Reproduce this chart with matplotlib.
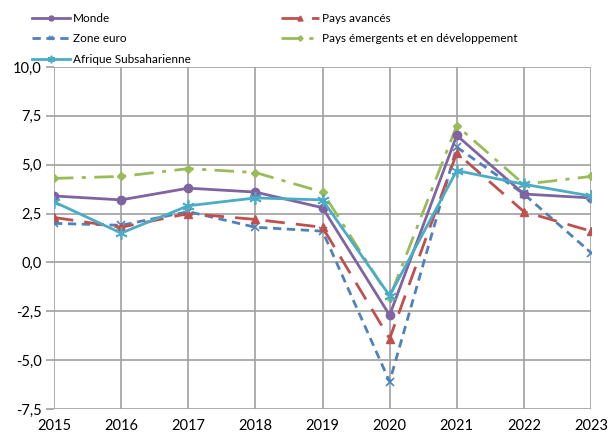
import matplotlib
matplotlib.use('Agg')
import matplotlib.pyplot as plt
import numpy as np

years = ['2015', '2016', '2017', '2018', '2019', '2020', '2021', '2022', '2023']

monde = [3.4, 3.2, 3.8, 3.6, 2.8, -2.7, 6.5, 3.5, 3.3]
pays_avances = [2.3, 1.8, 2.5, 2.2, 1.8, -3.9, 5.6, 2.6, 1.6]
zone_euro = [2.0, 1.9, 2.6, 1.8, 1.6, -6.1, 5.9, 3.5, 0.5]
pays_emergents = [4.3, 4.4, 4.8, 4.6, 3.6, -1.8, 7.0, 4.0, 4.4]
afrique_ss = [3.1, 1.5, 2.9, 3.3, 3.2, -1.7, 4.7, 4.0, 3.4]

yticks = [-7.5, -5.0, -2.5, 0.0, 2.5, 5.0, 7.5, 10.0]

plt.rcParams['font.family'] = ['Lato', 'DejaVu Sans']

fig = plt.figure(figsize=(6.09, 4.37), dpi=100)
ax = fig.add_axes([54 / 609, 1 - 409 / 437, (591 - 54) / 609, (409 - 67) / 437])

x = np.arange(len(years))

l_monde, = ax.plot(x, monde, color='#8064A2', lw=2, marker='o', ms=6, label='Monde', zorder=5)
l_av, = ax.plot(x, pays_avances, color='#C0504D', lw=2, dashes=[7, 4], marker='^', ms=6,
                label='Pays avancés', zorder=4)
l_ze, = ax.plot(x, zone_euro, color='#4F81BD', lw=2, dashes=[3, 2], marker='x', ms=6, mew=1.2,
                label='Zone euro', zorder=3)
l_em, = ax.plot(x, pays_emergents, color='#9BBB59', lw=2, dashes=[7, 3, 1.5, 3], marker='D', ms=4.5,
                label='Pays émergents et en développement', zorder=2)
l_af, = ax.plot(x, afrique_ss, color='#4BACC6', lw=2, marker=(6, 2, 0), ms=9, mew=1.2,
                label='Afrique Subsaharienne', zorder=6)

ax.set_xlim(0, len(years) - 1)
ax.set_ylim(-7.5, 10.0)
ax.set_xticks(x)
ax.set_xticklabels(years)
ax.set_yticks(yticks)
ax.set_yticklabels([('%.1f' % v).replace('.', ',') for v in yticks])

ax.grid(True, color='#A0A0A0', lw=1.2)
ax.set_axisbelow(True)
for s in ax.spines.values():
    s.set_visible(False)
ax.tick_params(axis='y', length=6, width=1.2, color='#A0A0A0', labelsize=10.5, pad=3)
ax.tick_params(axis='x', length=0, labelsize=10.5, pad=7)

# legend is filled column by column, so order handles to read row-wise like the original
handles = [l_monde, l_ze, l_af, l_av, l_em]
fig.legend(handles, [h.get_label() for h in handles],
           loc='upper left', bbox_to_anchor=(32 / 609, 1 - 13 / 437), ncol=2, frameon=False,
           fontsize=8.5, handlelength=3.2, handletextpad=0.3, columnspacing=7.6,
           labelspacing=0.8, borderaxespad=0, borderpad=0, markerscale=0.6)

fig.savefig('out.png', dpi=100)
